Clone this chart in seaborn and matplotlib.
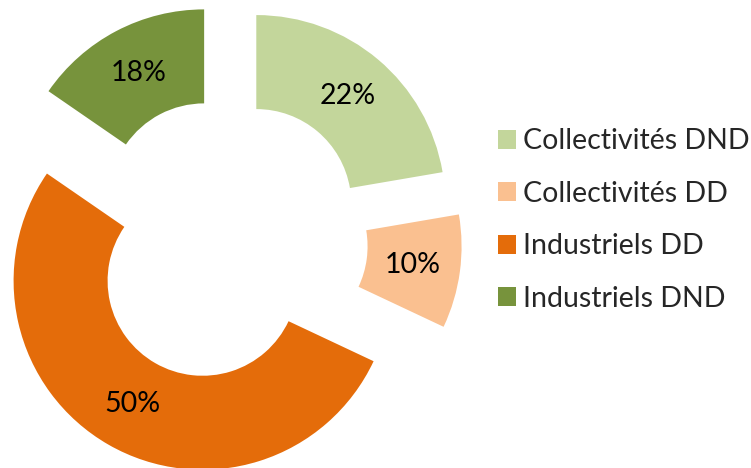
import matplotlib
matplotlib.use("Agg")
import matplotlib.pyplot as plt
import seaborn as sns

# données du graphique (angles, étiquettes telles qu'affichées)
categories = ['Collectivités DND', 'Collectivités DD', 'Industriels DD', 'Industriels DND']
parts = [22.3, 9.7, 52.6, 15.4]
etiquettes = ['22%', '10%', '50%', '18%']
couleurs = ['#C3D69B', '#FAC090', '#E46C0A', '#77933C']

sns.set_theme(style="white")
plt.rcParams['font.family'] = ['Lato', 'DejaVu Sans']

W, H = 751, 468
fig = plt.figure(figsize=(W / 100, H / 100), dpi=100)
ax = fig.add_axes([0, 0, 1, 1])

# anneau éclaté, en unités pixel
R = 189
wedges, _, pct = ax.pie(parts, colors=couleurs, startangle=90, counterclock=False,
                        center=(226, H - 240), radius=R, explode=[47] * len(parts),
                        autopct='%.0f%%', pctdistance=0.75,
                        wedgeprops=dict(width=94, linewidth=0),
                        textprops=dict(fontsize=20.5, color='black'))
for t, lab in zip(pct, etiquettes):
    t.set_text(lab)
ax.set_xlim(0, W)
ax.set_ylim(0, H)
ax.set_aspect('equal')
ax.axis('off')

fig.legend(wedges, categories, loc='center left', bbox_to_anchor=(487 / W, 1 - 220 / H),
           frameon=False, fontsize=20.5, handlelength=0.63, handleheight=0.63,
           handletextpad=0.22, labelspacing=0.93, borderaxespad=0)

fig.savefig('out.png', dpi=100)
